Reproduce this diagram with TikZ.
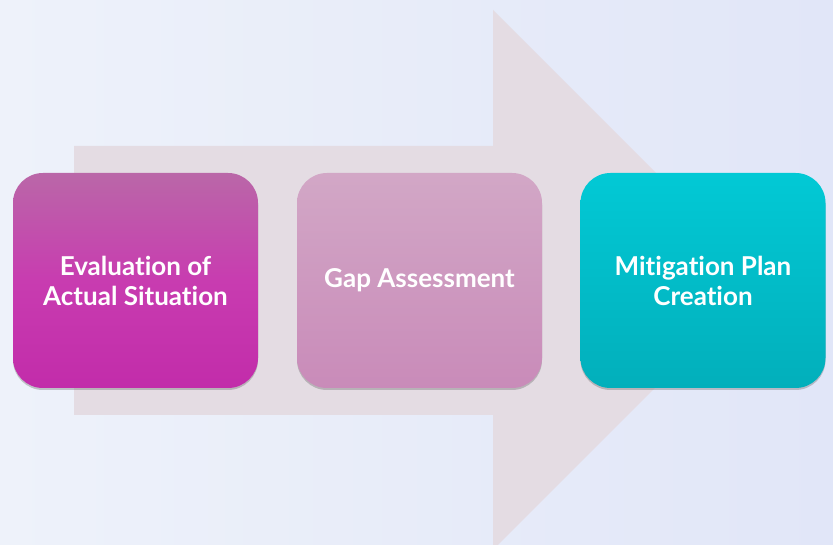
\documentclass[tikz,border=0pt]{standalone}
\usepackage{fontspec}
\setmainfont{Lato}[Ligatures={NoCommon}]
\usetikzlibrary{shadows}
\definecolor{bgL}{HTML}{EEF2FA}
\definecolor{bgR}{HTML}{E1E6F8}
\definecolor{arrowc}{HTML}{E4DCE3}
\definecolor{aTop}{HTML}{BA67A8}
\definecolor{aMid}{HTML}{C83CB0}
\definecolor{aBot}{HTML}{C22CAA}
\definecolor{bTop}{HTML}{D2A7C6}
\definecolor{bBot}{HTML}{C98BB9}
\definecolor{cTop}{HTML}{02C9D5}
\definecolor{cBot}{HTML}{02AFBB}
\tikzset{
  stepbox/.style={rounded corners=30pt, minimum width=245pt, minimum height=215pt,
    inner sep=0pt, align=center, text=white,
    font=\fontsize{26}{30}\selectfont\bfseries,
    drop shadow={shadow xshift=0pt, shadow yshift=-2pt, opacity=0.35, fill=black!60}},
}
\begin{document}
\begin{tikzpicture}[x=1pt,y=1pt]
\useasboundingbox (0,0) rectangle (833,545);
\shade[left color=bgL, right color=bgR] (0,0) rectangle (833,545);
\fill[arrowc] (74,130) -- (74,399) -- (493,399) -- (493,535) -- (763,265) -- (493,-5) -- (493,130) -- cycle;
\node[stepbox, top color=aTop, bottom color=aBot, middle color=aMid] (a) at (135.5,264.5) {Evaluation of\\Actual Situation};
\node[stepbox, top color=bTop, bottom color=bBot] (b) at (419.5,264.5) {Gap Assessment};
\node[stepbox, top color=cTop, bottom color=cBot] (c) at (703,264.5) {Mitigation Plan\\Creation};
\end{tikzpicture}
\end{document}
